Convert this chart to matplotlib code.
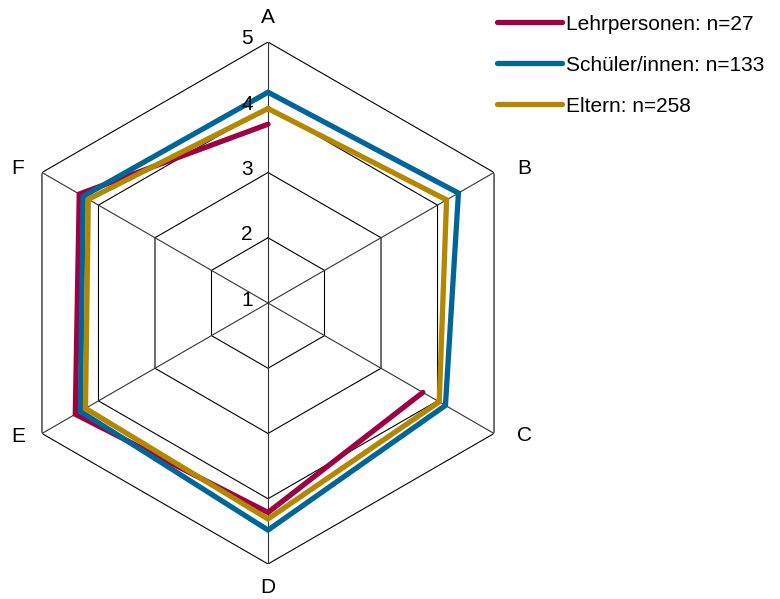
"""Radar chart of ratings A-F for three respondent groups."""

import numpy as np
import matplotlib
matplotlib.use("Agg")
import matplotlib.pyplot as plt

plt.rcParams["font.family"] = ["Liberation Sans", "DejaVu Sans"]

# Data
categories = ["A", "B", "C", "D", "E", "F"]
radial_ticks = [1, 2, 3, 4, 5]
lehrpersonen = [3.74, np.nan, 3.74, 4.21, 4.41, 4.34]
schueler = [4.23, 4.37, 4.14, 4.48, 4.32, 4.27]
eltern = [3.98, 4.16, 4.03, 4.31, 4.23, 4.18]
series_names = ["Lehrpersonen: n=27", "Schüler/innen: n=133", "Eltern: n=258"]
series_colors = ["#9E0042", "#00669A", "#B38800"]

W, H = 780, 599
PX = 0.72  # points per pixel at dpi 100
fig = plt.figure(figsize=(W / 100, H / 100), dpi=100)

# polar axes: centre (268, 303) px, radius 261 px for the value 5
cx, cy, R = 268, 303, 261
ax = fig.add_axes([(cx - R) / W, (H - cy - R) / H, 2 * R / W, 2 * R / H],
                  projection="polar")
ax.set_theta_zero_location("N")
ax.set_theta_direction(-1)
ax.set_ylim(1, 5)
ax.grid(False)
ax.spines["polar"].set_visible(False)
ax.set_xticks([])
ax.set_yticks([])
ax.patch.set_alpha(0)

n = len(categories)
angles = np.arange(n) * 2 * np.pi / n
closed = np.append(angles, angles[0])

# hexagon grid and spokes
for r in radial_ticks[1:]:
    ax.plot(closed, [r] * (n + 1), color="black", lw=0.8, zorder=1)
for a in angles:
    ax.plot([a, a], [1, 5], color="#333333", lw=0.8, zorder=1)

# data lines (NaN leaves a gap, as for Lehrpersonen at B)
for vals, name, col in zip([lehrpersonen, schueler, eltern], series_names, series_colors):
    v = np.append(vals, vals[0])
    ax.plot(closed, v, color=col, lw=3.8, solid_capstyle="round",
            solid_joinstyle="miter", label=name, zorder=3)

# category labels, offset (px) from the outer vertex
label_offsets = [(0, 24.5), (30.5, 4.5), (30.5, -2), (0, -23.5), (-24, -3), (-24, 4.5)]
for a, lab, (dx, dy) in zip(angles, categories, label_offsets):
    ax.annotate(lab, xy=(a, 5), xytext=(dx * PX, dy * PX), textcoords="offset points",
                ha="center", va="center", fontsize=15, annotation_clip=False)

# radial tick labels left of the A axis
for r in radial_ticks:
    ax.annotate(str(r), xy=(0, r), xytext=(-15 * PX, 3 * PX), textcoords="offset points",
                ha="right", va="center", fontsize=15, annotation_clip=False)

leg = fig.legend(loc="upper left", bbox_to_anchor=(497 / W, 1 - 14.5 / H),
                 frameon=False, fontsize=15, handlelength=3.1, borderpad=0,
                 handletextpad=0.2, labelspacing=1.06, borderaxespad=0)
for h in leg.get_lines():
    h.set_solid_capstyle("round")

fig.savefig("out.png", dpi=100)
